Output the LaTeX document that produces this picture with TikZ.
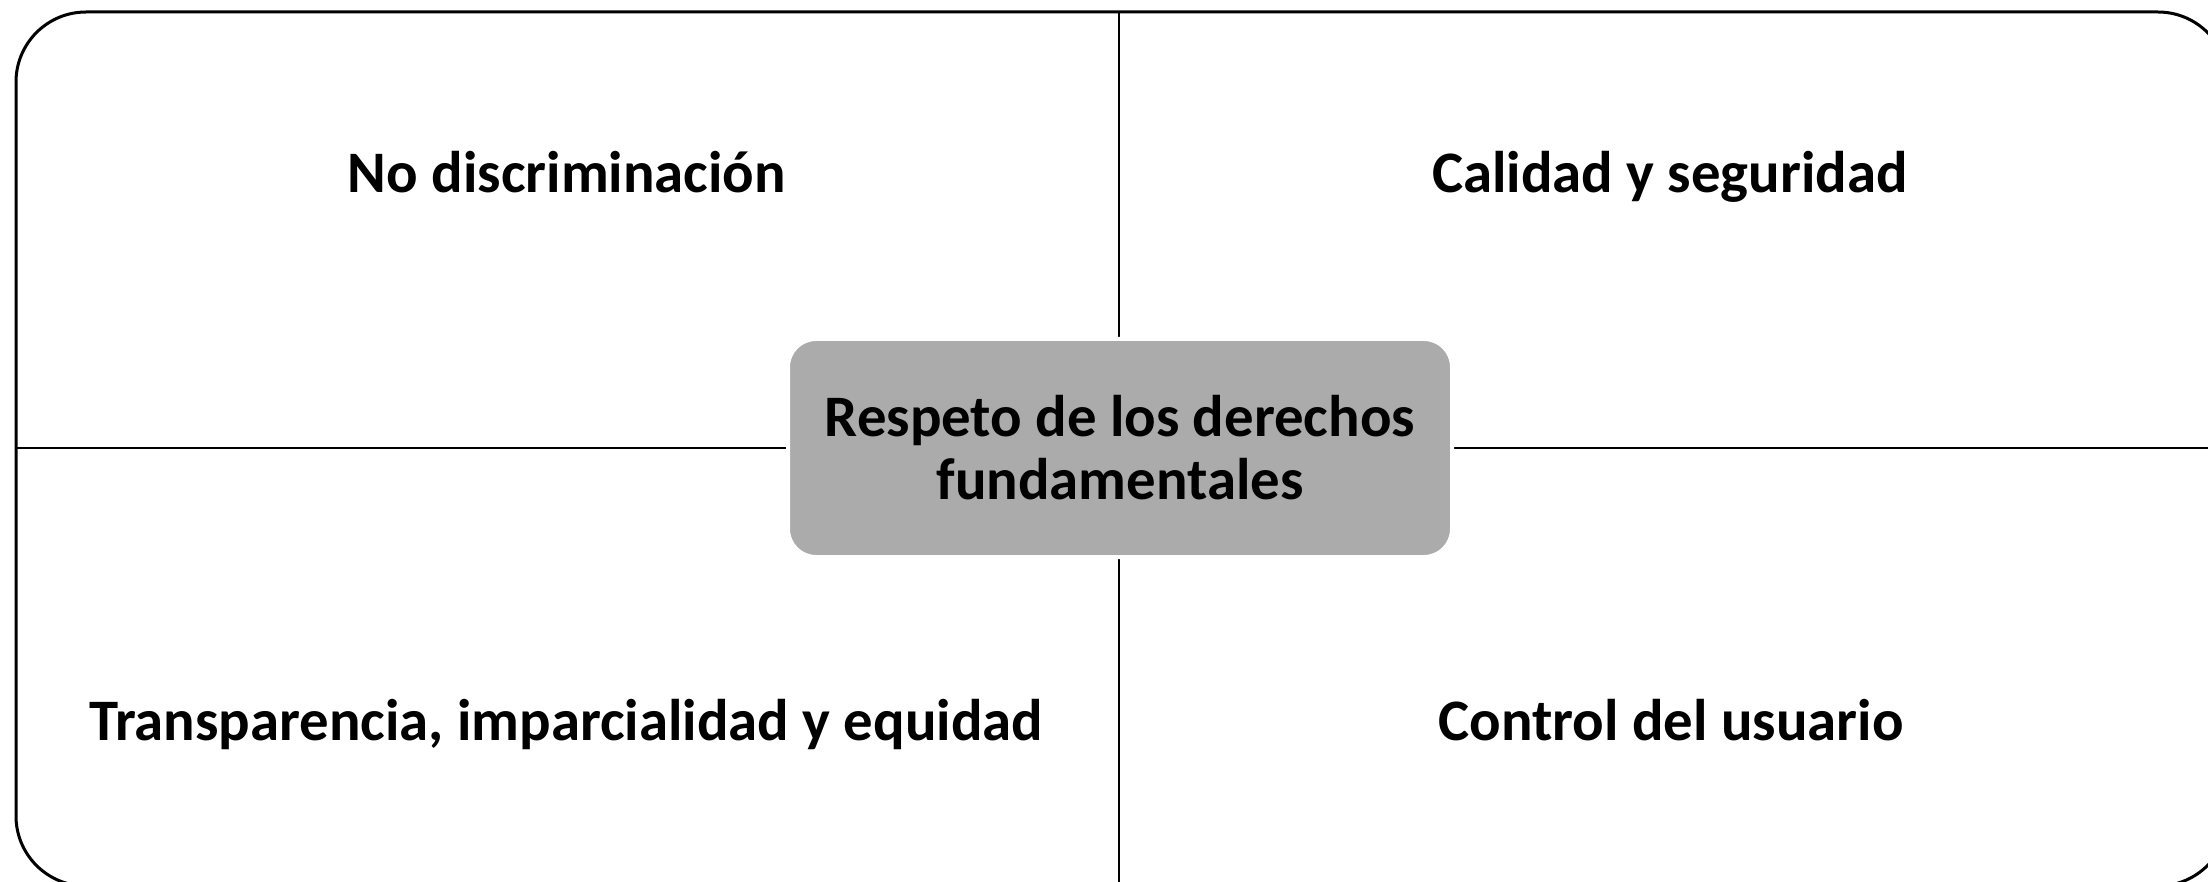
\documentclass[tikz,border=0pt]{standalone}
\usepackage{fontspec}
\setmainfont{Carlito}

\tikzset{
	label text/.style={font=\fontsize{29.4}{32}\selectfont\bfseries, inner sep=0pt},
	core box/.style={fill=black!33, draw=white, line width=2pt, rounded corners=14pt,
		minimum width=332pt, minimum height=109pt, align=center,
		font=\fontsize{29.4}{31.5}\selectfont\bfseries}
}

\begin{document}
\begin{tikzpicture}[x=0.5pt, y=-0.5pt]
		\useasboundingbox (0, 0) rectangle (2208, 882);
		\clip (0, 0) rectangle (2208, 882);

		\draw [line width=1.5pt, rounded corners=35pt] (16, 12) rectangle (2228, 886);

		\draw [line width=1.3pt] (1119, 12) -- (1119, 886);
		\draw [line width=1.3pt] (16, 448) -- (2228, 448);

		\node [core box] (core) at (1120, 448) {Respeto de los derechos\\fundamentales};

		\node [label text, anchor=base] (nodisc) at (567, 193) {No discriminación};
		\node [label text, anchor=base] (calidad) at (1670, 193) {Calidad y seguridad};
		\node [label text, anchor=base] (transp) at (566, 740) {Transparencia, imparcialidad y equidad};
		\node [label text, anchor=base] (control) at (1671, 740) {Control del usuario};
	\end{tikzpicture}
\end{document}
